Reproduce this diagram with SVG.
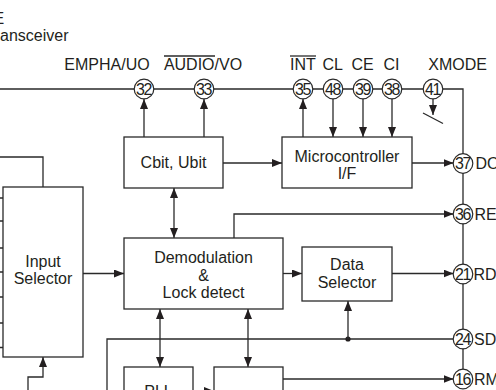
<svg xmlns="http://www.w3.org/2000/svg" width="496" height="390" viewBox="0 0 496 390">
<defs>
<style>
text{font-family:"Liberation Sans",Arial,Helvetica,sans-serif;font-size:16px;fill:#231f20}
.c{text-anchor:middle}
.n{font-size:16px;text-anchor:middle;letter-spacing:-1.2px}
.box{fill:#fff;stroke:#2a2a2a;stroke-width:1.3}
.ln{fill:none;stroke:#2a2a2a;stroke-width:1.3}
.pin{fill:#fff;stroke:#2a2a2a;stroke-width:1.2}
.ar{marker-end:url(#ah)}
.dbl{marker-end:url(#ah);marker-start:url(#ah)}
</style>
<marker id="ah" viewBox="0 0 10 8" refX="10" refY="4" markerWidth="10" markerHeight="8" markerUnits="userSpaceOnUse" orient="auto-start-reverse">
<path d="M0,0 L10,4 L0,8 z" fill="#231f20"/>
</marker>
</defs>

<g id="title">
<text x="-6.5" y="24">E</text>
<text x="0" y="41">ansceiver</text>
</g>

<g id="connectors">
<path class="ln" d="M0,89 H463 V379"/>
<path class="ln ar" d="M144,137 V99"/>
<path class="ln ar" d="M204,137 V99"/>
<path class="ln ar" d="M223,163 H282"/>
<path class="ln ar" d="M303,137 V99"/>
<path class="ln ar" d="M333,99 V137"/>
<path class="ln ar" d="M363,99 V137"/>
<path class="ln ar" d="M392,99 V137"/>
<path class="ln ar" d="M433,99 V115"/>
<path class="ln" d="M423,113 L443,123.5"/>
<path class="ln ar" d="M412,163 H453.5"/>
<path class="ln ar" d="M234,238 V214 H453.5"/>
<path class="ln dbl" d="M174,188 V238"/>
<path class="ln" d="M43,187 V157 H0"/>
<path class="ln" d="M0,198 H3 M0,221 H3 M0,248 H3 M0,272 H3 M0,297 H3 M0,323 H3 M0,347.5 H3"/>
<path class="ln ar" d="M83,273.5 H124"/>
<path class="ln ar" d="M283,273.5 H302"/>
<path class="ln ar" d="M392,273.5 H453.5"/>
<path class="ln" d="M453.5,339 H107 V390"/>
<circle cx="348" cy="339" r="2.6" fill="#231f20"/>
<path class="ln ar" d="M348,339 V301"/>
<path class="ln dbl" d="M160,309 V367"/>
<path class="ln dbl" d="M248,309 V367"/>
<path class="ln ar" d="M193,391 H214"/>
<path class="ln ar" d="M283,379 H453.5"/>
<path class="ln ar" d="M28,390 V377 H43 V357"/>
</g>

<g id="pin-labels">
<text class="c" x="107" y="70">EMPHA/UO</text>
<text class="c" x="203" y="70">AUDIO/VO</text>
<line class="ln" x1="164" y1="56" x2="215" y2="56"/>
<text class="c" x="303" y="70">INT</text>
<line class="ln" x1="290" y1="56" x2="316" y2="56"/>
<text class="c" x="332.7" y="70">CL</text>
<text class="c" x="362.5" y="70">CE</text>
<text class="c" x="391.5" y="70">CI</text>
<text class="c" x="457.7" y="70">XMODE</text>
<text x="475.5" y="169">DO</text>
<text x="474.5" y="220">RE</text>
<text x="473.5" y="279.5">RD</text>
<text x="474" y="345">SD</text>
<text x="474" y="385">RM</text>
</g>

<g id="pins">
<circle class="pin" cx="144" cy="89" r="9.8"/><text class="n" x="143.6" y="94.8">32</text>
<circle class="pin" cx="204" cy="89" r="9.8"/><text class="n" x="203.6" y="94.8">33</text>
<circle class="pin" cx="303" cy="89" r="9.8"/><text class="n" x="302.6" y="94.8">35</text>
<circle class="pin" cx="333" cy="89" r="9.8"/><text class="n" x="332.6" y="94.8">48</text>
<circle class="pin" cx="363" cy="89" r="9.8"/><text class="n" x="362.6" y="94.8">39</text>
<circle class="pin" cx="392" cy="89" r="9.8"/><text class="n" x="391.6" y="94.8">38</text>
<circle class="pin" cx="433" cy="89" r="9.8"/><text class="n" x="432.6" y="94.8">41</text>
<circle class="pin" cx="463" cy="163.5" r="9.8"/><text class="n" x="462.6" y="169.3">37</text>
<circle class="pin" cx="463" cy="214" r="9.8"/><text class="n" x="462.6" y="219.8">36</text>
<circle class="pin" cx="463" cy="274" r="9.8"/><text class="n" x="462.6" y="279.8">21</text>
<circle class="pin" cx="463" cy="339" r="9.8"/><text class="n" x="462.6" y="344.8">24</text>
<circle class="pin" cx="463" cy="379" r="9.8"/><text class="n" x="462.6" y="384.8">16</text>
</g>

<g id="cbit-ubit">
<rect class="box" x="124" y="137" width="99" height="51"/>
<text class="c" x="173.5" y="168">Cbit, Ubit</text>
</g>

<g id="microcontroller-if">
<rect class="box" x="282" y="137" width="130" height="51"/>
<text class="c" x="347" y="161.5">Microcontroller</text>
<text class="c" x="347" y="179">I/F</text>
</g>

<g id="input-selector">
<rect class="box" x="3" y="187" width="80" height="170"/>
<text class="c" x="43" y="266.5">Input</text>
<text class="c" x="43" y="284">Selector</text>
</g>

<g id="demodulation">
<rect class="box" x="124" y="238" width="159" height="71"/>
<text class="c" x="203.5" y="263">Demodulation</text>
<text class="c" x="203.5" y="280.5">&amp;</text>
<text class="c" x="203.5" y="297.5">Lock detect</text>
</g>

<g id="data-selector">
<rect class="box" x="302" y="247" width="90" height="54"/>
<text class="c" x="347" y="270">Data</text>
<text class="c" x="347" y="287.5">Selector</text>
</g>

<g id="pll">
<rect class="box" x="124" y="367" width="69" height="40"/>
<text class="c" x="158.5" y="396.5">PLL</text>
</g>

<g id="block2">
<rect class="box" x="214" y="367" width="69" height="40"/>
</g>
</svg>
